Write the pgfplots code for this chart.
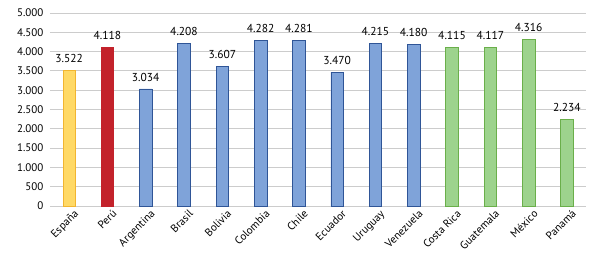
\documentclass[border=0pt]{standalone}
\usepackage{pgfplots}
\pgfplotsset{compat=1.18}
\usepackage{fontspec}
\setmainfont{PT Sans}
\definecolor{yfill}{HTML}{FFD966}
\definecolor{yline}{HTML}{F2B530}
\definecolor{rfill}{HTML}{C3222B}
\definecolor{bfill}{HTML}{7FA3D9}
\definecolor{bline}{HTML}{2F5597}
\definecolor{gfill}{HTML}{9DD38D}
\definecolor{gline}{HTML}{6AAF4A}
\begin{document}
\begin{tikzpicture}
\begin{axis}[
  scale only axis,
  width=536pt, height=193pt,
  xmin=-0.5, xmax=13.5,
  ymin=0, ymax=5000,
  ytick={0,500,...,5000},
  xtick={0,...,13},
  xticklabels={España,Perú,Argentina,Brasil,Bolivia,Colombia,Chile,Ecuador,Uruguay,Venezuela,Costa Rica,Guatemala,México,Panamá},
  xticklabel style={rotate=45, anchor=north east, inner sep=1pt, yshift=-4pt, xshift=2pt},
  yticklabel style={xshift=-3pt},
  axis line style={draw=none},
  major tick length=0pt,
  ymajorgrids, grid style={draw=black!20, line width=0.8pt},
  font=\fontsize{11}{13}\selectfont,
  tick label style={font=\fontsize{11}{13}\selectfont},
  /pgf/number format/.cd, assume math mode=true, 1000 sep={.}, set decimal separator={,},
  /pgfplots/.cd,
  ybar, bar width=12.5pt, bar shift=0pt,
  nodes near coords,
  every node near coord/.append style={font=\fontsize{11.5}{13}\selectfont, yshift=4pt},
  clip=false,
]
\addplot[fill=yfill, draw=yline, line width=0.6pt] coordinates {(0,3522)};
\addplot[fill=rfill, draw=rfill, line width=0.6pt] coordinates {(1,4118)};
\addplot[fill=bfill, draw=bline, line width=0.6pt] coordinates {(2,3034) (3,4208) (4,3607) (5,4282) (6,4281) (7,3470) (8,4215) (9,4180)};
\addplot[fill=gfill, draw=gline, line width=0.6pt] coordinates {(10,4115) (11,4117) (12,4316) (13,2234)};
\path (rel axis cs:0,0) ++(-50pt,-59pt) (rel axis cs:1,1) ++(7pt,13pt);
\end{axis}
\end{tikzpicture}
\end{document}
